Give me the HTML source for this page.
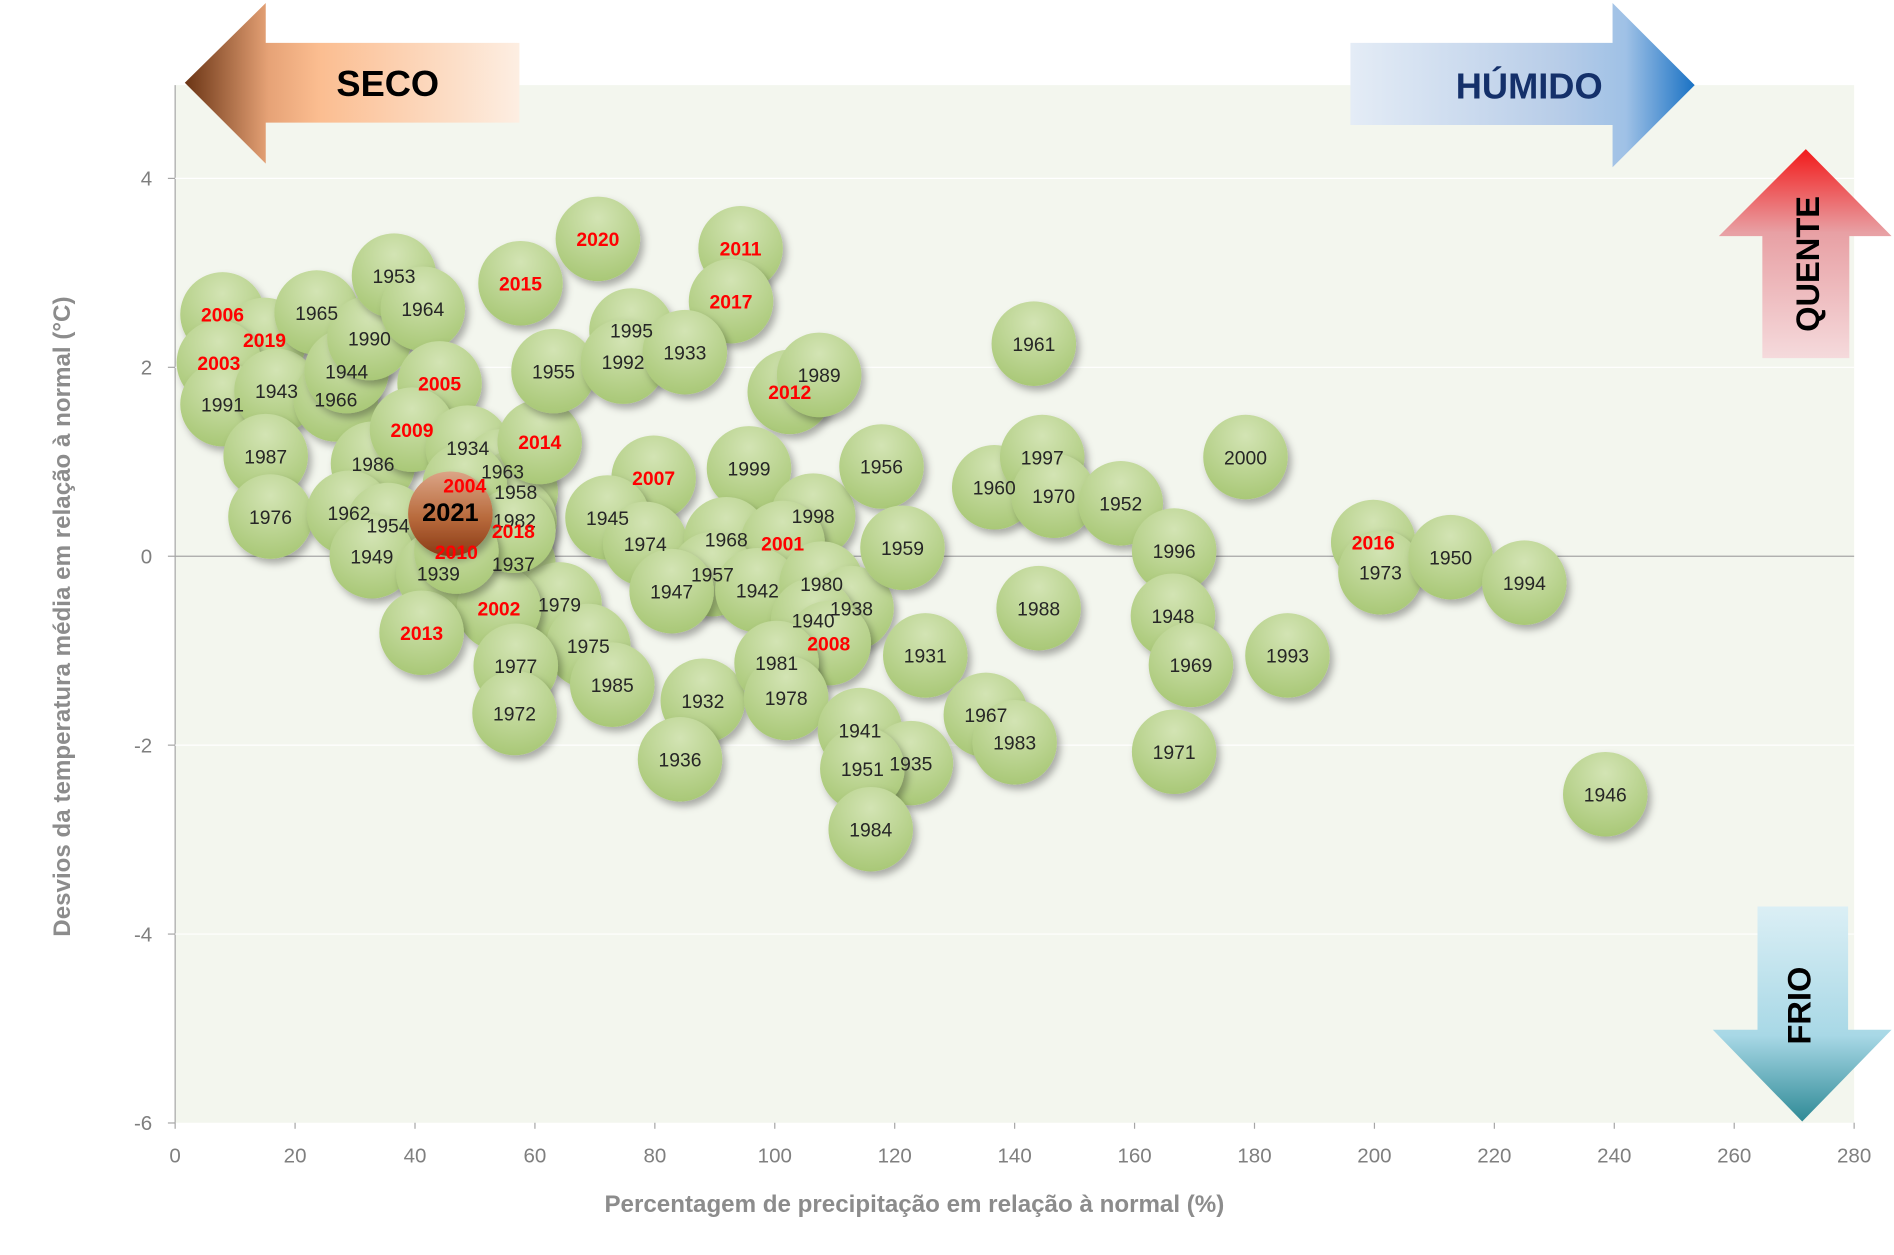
<!DOCTYPE html>
<html><head><meta charset="utf-8"><style>
html,body{margin:0;padding:0;background:#fff;}
svg{display:block;font-family:"Liberation Sans",sans-serif;}
</style></head><body>
<svg id="chart" width="1894" height="1255" viewBox="0 0 1568 1038" xmlns="http://www.w3.org/2000/svg">
<defs>
<radialGradient id="gGreen" cx="50%" cy="25%" r="75%"><stop offset="0" stop-color="#d3e4b4"/><stop offset="1" stop-color="#a9c877"/></radialGradient>
<linearGradient id="gBrown" x1="0" y1="0" x2="0" y2="1"><stop offset="0" stop-color="#dba486"/><stop offset="0.55" stop-color="#b86a3c"/><stop offset="1" stop-color="#8a3a16"/></linearGradient>
<filter id="sh" x="-30%" y="-30%" width="170%" height="170%"><feDropShadow dx="3" dy="4" stdDeviation="3" flood-color="#000" flood-opacity="0.3"/></filter>
<linearGradient id="gSeco" x1="0" y1="0" x2="1" y2="0"><stop offset="0" stop-color="#6a3414"/><stop offset="0.25" stop-color="#e6a276"/><stop offset="0.4" stop-color="#fbbd90"/><stop offset="1" stop-color="#fdeee2"/></linearGradient>
<linearGradient id="gHum" x1="0" y1="0" x2="1" y2="0"><stop offset="0" stop-color="#e4ecf6"/><stop offset="0.6" stop-color="#b8cde8"/><stop offset="0.8" stop-color="#9fc1e6"/><stop offset="1" stop-color="#1a72c4"/></linearGradient>
<linearGradient id="gQue" x1="0" y1="0" x2="0" y2="1"><stop offset="0" stop-color="#f21a1a"/><stop offset="0.4" stop-color="#e8a0a4"/><stop offset="1" stop-color="#f5dadc"/></linearGradient>
<linearGradient id="gFrio" x1="0" y1="0" x2="0" y2="1"><stop offset="0" stop-color="#dbeff5"/><stop offset="0.6" stop-color="#a8d8e6"/><stop offset="1" stop-color="#2f8a96"/></linearGradient>
</defs>
<rect x="145" y="70" width="1390" height="859" fill="#f3f6ee"/>
<g id="axes"></g>
<g id="bubbles"></g>
<text x="757" y="1003" text-anchor="middle" font-size="20" font-weight="bold" fill="#8c8c8c">Percentagem de precipitação em relação à normal (%)</text>
<text transform="translate(58,510) rotate(-90)" text-anchor="middle" font-size="20" font-weight="bold" fill="#8c8c8c">Desvios da temperatura média em relação à normal  (°C)</text>
<g>
<polygon points="153,68 220,2 220,35 430,35 430,101 220,101 220,135" fill="url(#gSeco)"/>
<text x="321" y="79" text-anchor="middle" font-size="30" font-weight="bold" fill="#000">SECO</text></g>
<g>
<polygon points="1118,35 1335,35 1335,2 1403,70 1335,138 1335,103 1118,103" fill="url(#gHum)"/>
<text x="1266" y="81" text-anchor="middle" font-size="30" font-weight="bold" fill="#14306a">HÚMIDO</text></g>
<g>
<polygon points="1495,123 1566,195 1531,195 1531,296 1459,296 1459,195 1423,195" fill="url(#gQue)"/>
<text transform="translate(1506,218) rotate(-90)" text-anchor="middle" font-size="27" font-weight="bold" fill="#000">QUENTE</text></g>
<g>
<polygon points="1455,750 1530,750 1530,852 1566,852 1492,928 1418,852 1455,852" fill="url(#gFrio)"/>
<text transform="translate(1499,832) rotate(-90)" text-anchor="middle" font-size="27" font-weight="bold" fill="#000">FRIO</text></g>
<script>
const years=[2006,2019,2003,1991,1943,1965,1966,1944,1990,1953,1964,2005,1987,1976,1986,2009,1934,1963,1958,1962,1954,1982,1949,1937,1939,2014,2015,2020,2011,2017,1955,1995,1992,1933,2012,1989,1961,2007,1999,1945,1974,1968,1998,2001,1957,1947,1942,1980,1938,1940,2008,1979,2002,2013,1975,1977,1985,1972,1932,1936,1981,1978,1956,1959,1931,1941,1935,1951,1984,1967,1983,1960,1997,1970,1952,1988,1996,1948,1969,1971,2000,1993,2016,1973,1950,1994,1946,2004,2018,2010,2021];
const precip=[7.9,14.9,7.3,7.9,16.9,23.6,26.8,28.6,32.4,36.5,41.3,44.1,15.1,15.9,33.0,39.5,48.8,54.6,56.8,29.0,35.5,56.6,32.8,56.4,43.9,60.8,57.6,70.5,94.3,92.7,63.1,76.1,74.7,85.0,102.5,107.4,143.2,79.8,95.7,72.1,78.4,91.9,106.4,101.3,89.6,82.8,97.1,107.8,112.8,106.4,109.0,64.1,54.0,41.1,68.9,56.8,72.9,56.6,88.0,84.2,100.3,101.9,117.8,121.3,125.1,114.2,122.7,114.6,116.0,135.2,140.0,136.6,144.6,146.5,157.7,144.0,166.6,166.4,169.4,166.6,178.5,185.5,199.8,201.0,212.7,225.0,238.5,48.3,56.4,46.9,45.9];
const tdev=[2.56,2.29,2.05,1.61,1.75,2.58,1.66,1.96,2.31,2.97,2.62,1.83,1.06,0.42,0.98,1.34,1.15,0.90,0.68,0.46,0.33,0.38,0.0,-0.08,-0.18,1.21,2.89,3.36,3.26,2.70,1.96,2.39,2.06,2.16,1.74,1.92,2.25,0.83,0.93,0.41,0.13,0.18,0.43,0.14,-0.19,-0.37,-0.36,-0.29,-0.55,-0.68,-0.92,-0.51,-0.55,-0.81,-0.95,-1.16,-1.36,-1.66,-1.53,-2.15,-1.13,-1.50,0.95,0.09,-1.05,-1.84,-2.19,-2.25,-2.89,-1.68,-1.97,0.73,1.05,0.64,0.56,-0.55,0.06,-0.63,-1.15,-2.07,1.05,-1.05,0.15,-0.17,-0.01,-0.28,-2.52,0.75,0.27,0.05,0.45];
const xTicks=[0,20,40,60,80,100,120,140,160,180,200,220,240,260,280];
const yTicks=[4,2,0,-2,-4,-6];
const NS="http://www.w3.org/2000/svg";
function xs(v){return 145+v*(1390/280);}
function ys(v){return 460-v*78.2;}
function mk(t,a,p){const e=document.createElementNS(NS,t);for(const k in a)e.setAttribute(k,a[k]);p.appendChild(e);return e;}
const ax=document.getElementById('axes');
let l=mk('line',{x1:145,y1:70,x2:145,y2:929,stroke:'#a6a6a6','stroke-width':1},ax);


l=mk('line',{x1:145,y1:ys(0),x2:1535,y2:ys(0),stroke:'#a6a6a6','stroke-width':1},ax);


yTicks.forEach(v=>{
 mk('line',{x1:139,y1:ys(v),x2:145,y2:ys(v),stroke:'#a6a6a6'},ax);
 if(v!==0&&v!==-6)mk('line',{x1:145,y1:ys(v),x2:1535,y2:ys(v),stroke:'#ffffff','stroke-width':1},ax);
 const t=mk('text',{x:126,y:ys(v)+6,'text-anchor':'end','font-size':17,fill:'#7f7f7f'},ax);
 
 
 t.textContent=v;
});
xTicks.forEach(v=>{
 mk('line',{x1:xs(v),y1:929,x2:xs(v),y2:934,stroke:'#a6a6a6'},ax);
 const t=mk('text',{x:xs(v),y:962,'text-anchor':'middle','font-size':17,fill:'#7f7f7f'},ax);
 
 
 t.textContent=v;
});
const bg=document.getElementById('bubbles');
years.forEach((y,i)=>{
 const g=mk('g',{},bg);
 
 
 const is21=y===2021;
 mk('circle',{cx:xs(precip[i]),cy:ys(tdev[i]),r:35,fill:is21?'url(#gBrown)':'url(#gGreen)',filter:'url(#sh)'},g);
});
years.forEach((y,i)=>{
 const is21=y===2021;
 const t=mk('text',{x:xs(precip[i]),y:ys(tdev[i])+6,'text-anchor':'middle','font-size':is21?21:16,'font-weight':is21?'bold':'normal',fill:is21?'#000':(y>=2001?'#ff0000':'#262626')},bg);
 
 
 if(y>=2001&&!is21)t.setAttribute('font-weight','bold');
 t.textContent=y;
});
</script>
</svg>
</body></html>
